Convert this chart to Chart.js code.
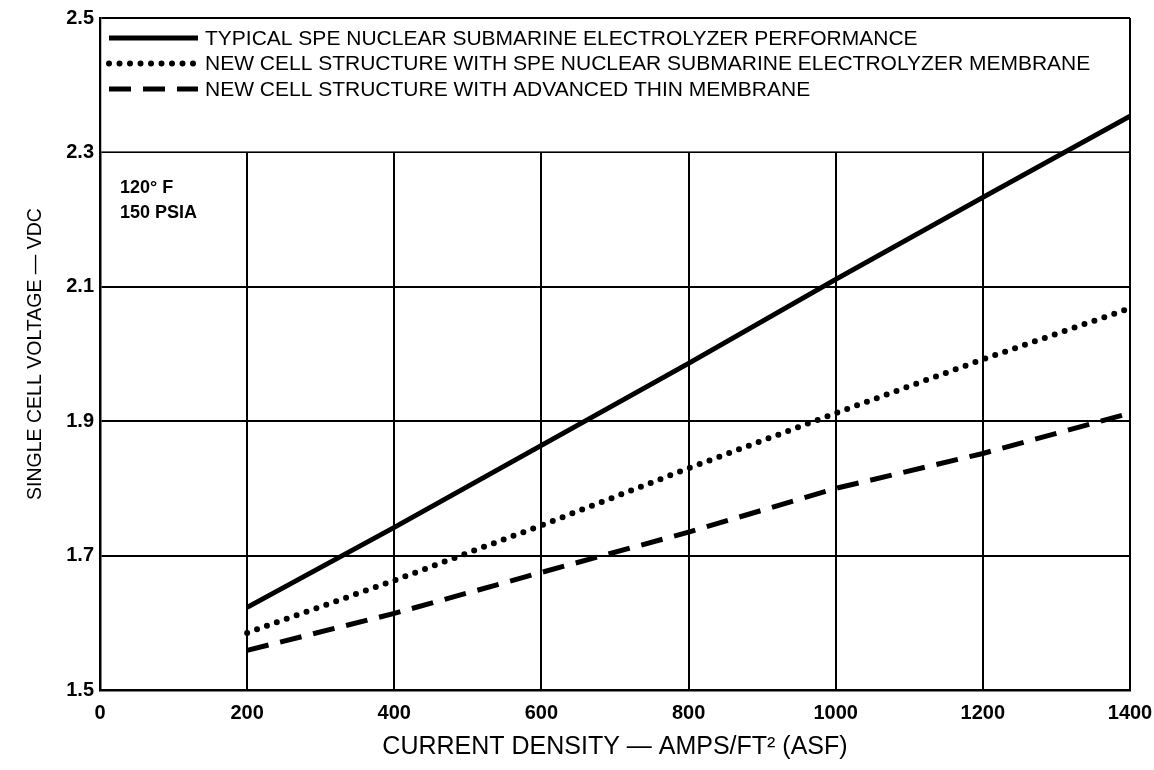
<!DOCTYPE html>
<html>
<head>
<meta charset="utf-8">
<title>Single cell voltage vs current density</title>
<script src="https://cdn.jsdelivr.net/npm/chart.js@4.4.1/dist/chart.umd.min.js"></script>
<style>
    html, body { margin: 0; padding: 0; background: #fff; }
    #wrap { width: 1154px; height: 770px; }
</style>
</head>
<body>
<div id="wrap"><canvas id="voltageChart" width="1154" height="770"></canvas></div>
<script>
// Valores
const currentDensity = [200, 400, 600, 800, 1000, 1200, 1400];
const typicalSpe = [1.623, 1.742, 1.864, 1.986, 2.111, 2.233, 2.354];
const speMembrane = [1.585, 1.663, 1.745, 1.830, 1.912, 1.992, 2.068];
const thinMembrane = [1.559, 1.614, 1.675, 1.735, 1.800, 1.852, 1.912];

const seriesLabels = [
    'TYPICAL SPE NUCLEAR SUBMARINE ELECTROLYZER PERFORMANCE',
    'NEW CELL STRUCTURE WITH SPE NUCLEAR SUBMARINE ELECTROLYZER MEMBRANE',
    'NEW CELL STRUCTURE WITH ADVANCED THIN MEMBRANE'
];
const xTicks = [0, 200, 400, 600, 800, 1000, 1200, 1400];
const yTicks = [1.5, 1.7, 1.9, 2.1, 2.3, 2.5];
const legendTopValue = 2.3;
const conditionNotes = ['120\u00B0 F', '150 PSIA'];

const xTitle = 'CURRENT DENSITY \u2014 AMPS/FT\u00B2 (ASF)';
const yTitle = 'SINGLE CELL VOLTAGE \u2014 VDC';

const textFont = "'Liberation Sans', Arial, Helvetica, sans-serif";

function toPoints(values) {
    return currentDensity.map((x, i) => ({ x: x, y: values[i] }));
}

// Caja de leyenda dentro del área del gráfico + notas de condiciones
const legendBoxPlugin = {
    id: 'legendBox',
    beforeDatasetsDraw(chart) {
        const { ctx, chartArea, scales } = chart;
        const yCut = scales.y.getPixelForValue(legendTopValue);
        ctx.save();
        ctx.fillStyle = '#fff';
        ctx.fillRect(chartArea.left + 1.5, chartArea.top + 1,
            chartArea.right - chartArea.left - 3, yCut - chartArea.top - 2);
        ctx.restore();
    },
    afterDatasetsDraw(chart) {
        const { ctx, chartArea } = chart;
        ctx.save();
        ctx.fillStyle = '#000';
        ctx.strokeStyle = '#000';
        ctx.textBaseline = 'middle';
        ctx.font = '21px ' + textFont;
        chart.data.datasets.forEach((ds, i) => {
            const y = chartArea.top + 20 + i * 25.5;
            ctx.beginPath();
            ctx.lineWidth = ds.borderWidth;
            ctx.lineCap = ds.borderCapStyle || 'butt';
            ctx.setLineDash(ds.borderDash || []);
            ctx.moveTo(chartArea.left + 9, y);
            ctx.lineTo(chartArea.left + 98, y);
            ctx.stroke();
            ctx.setLineDash([]);
            ctx.fillText(ds.label, chartArea.left + 105, y + 1);
        });

        ctx.font = 'bold 18px ' + textFont;
        conditionNotes.forEach((note, i) => {
            ctx.fillText(note, chartArea.left + 20, chartArea.top + 170 + i * 25);
        });
        ctx.restore();
    }
};

const ctx = document.getElementById('voltageChart').getContext('2d');

new Chart(ctx, {
    type: 'line',
    data: {
        datasets: [
            {
                label: seriesLabels[0],
                data: toPoints(typicalSpe),
                borderColor: '#000',
                borderWidth: 5,
                pointRadius: 0,
                tension: 0,
                fill: false
            },
            {
                label: seriesLabels[1],
                data: toPoints(speMembrane),
                borderColor: '#000',
                borderWidth: 6,
                borderDash: [0, 10.5],
                borderCapStyle: 'round',
                pointRadius: 0,
                tension: 0,
                fill: false
            },
            {
                label: seriesLabels[2],
                data: toPoints(thinMembrane),
                borderColor: '#000',
                borderWidth: 5,
                borderDash: [22, 12],
                pointRadius: 0,
                tension: 0,
                fill: false
            }
        ]
    },
    options: {
        responsive: false,
        animation: false,
        devicePixelRatio: 1,
        layout: {
            padding: { top: 15, right: 24, bottom: 0, left: 0 }
        },
        plugins: {
            legend: { display: false },
            tooltip: { enabled: false }
        },
        scales: {
            x: {
                type: 'linear',
                min: 0,
                max: 1400,
                afterBuildTicks: axis => { axis.ticks = xTicks.map(v => ({ value: v })); },
                afterFit: axis => {
                    axis.height = 80;
                    axis.paddingLeft = 0;
                    axis.paddingRight = 0;
                },
                grid: { color: '#000', lineWidth: 2, drawTicks: false },
                border: { color: '#000', width: 2.5 },
                ticks: {
                    color: '#000',
                    padding: 11,
                    maxRotation: 0,
                    font: { family: textFont, size: 20, weight: 'bold' },
                    callback: v => String(v)
                },
                title: {
                    display: true,
                    text: xTitle,
                    color: '#000',
                    padding: { top: 0, bottom: 8 },
                    font: { family: textFont, size: 25 }
                }
            },
            y: {
                type: 'linear',
                min: 1.5,
                max: 2.5,
                afterBuildTicks: axis => { axis.ticks = yTicks.map(v => ({ value: v })); },
                afterFit: axis => { axis.width = 100; },
                grid: { color: '#000', lineWidth: 2, drawTicks: false },
                border: { color: '#000', width: 2.5 },
                ticks: {
                    color: '#000',
                    padding: 6,
                    font: { family: textFont, size: 20, weight: 'bold' },
                    callback: v => Number(v).toFixed(1)
                },
                title: {
                    display: true,
                    text: yTitle,
                    color: '#000',
                    padding: { top: 24, bottom: 0 },
                    font: { family: textFont, size: 19.5 }
                }
            }
        }
    },
    plugins: [legendBoxPlugin]
});
</script>
</body>
</html>
